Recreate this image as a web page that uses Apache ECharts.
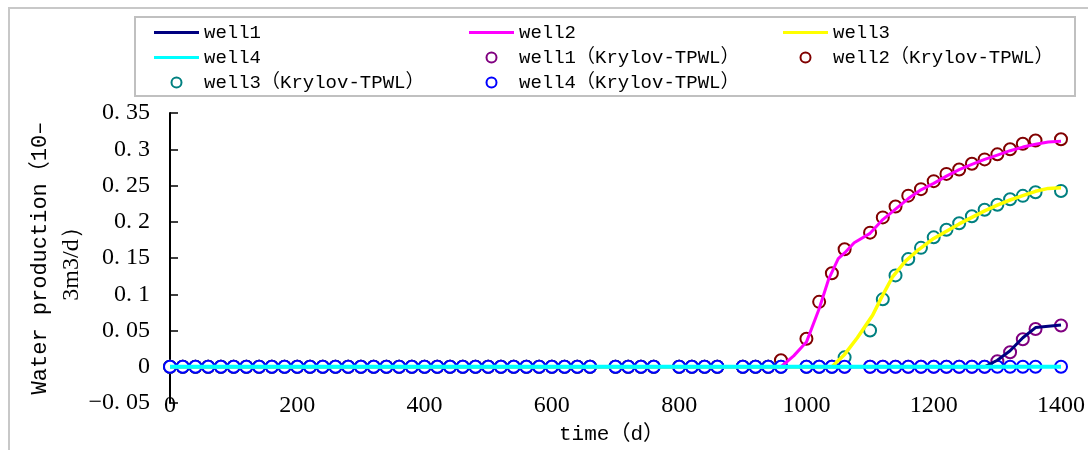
<!DOCTYPE html>
<html>
<head>
<meta charset="utf-8">
<script src="https://cdn.jsdelivr.net/npm/echarts@6/dist/echarts.min.js"></script>
<style>
html,body{margin:0;padding:0;background:#fff;}
#chart{width:1088px;height:450px;}
</style>
</head>
<body>
<div id="chart"></div>
<script>
// ---- data ----
var xTicks = [0, 200, 400, 600, 800, 1000, 1200, 1400];
var yTicks = [-0.05, 0, 0.05, 0.1, 0.15, 0.2, 0.25, 0.3, 0.35];

var markerTimes = [0,20,40,60,80,100,120,140,160,180,200,220,240,260,280,300,320,340,360,380,400,420,440,460,480,500,520,540,560,580,600,620,640,660,
  700,720,740,760, 800,820,840,860, 900,920,940,960, 1000,1020,1040,1060,
  1100,1120,1140,1160,1180,1200,1220,1240,1260,1280,1300,1320,1340,1360, 1400];

var well1K = [0,0,0,0,0,0,0,0,0,0,0,0,0,0,0,0,0,0,0,0,0,0,0,0,0,0,0,0,0,0,0,0,0,0,
  0,0,0,0, 0,0,0,0, 0,0,0,0, 0,0,0,0,
  0,0,0,0,0,0,0,0,0,0,0.0077,0.020,0.038,0.052, 0.0568];
var well2K = [0,0,0,0,0,0,0,0,0,0,0,0,0,0,0,0,0,0,0,0,0,0,0,0,0,0,0,0,0,0,0,0,0,0,
  0,0,0,0, 0,0,0,0, 0,0,0,0.009, 0.0386,0.0895,0.129,0.162,
  0.185,0.206,0.221,0.236,0.245,0.256,0.266,0.272,0.280,0.286,0.293,0.300,0.3075,0.312, 0.3137];
var well3K = [0,0,0,0,0,0,0,0,0,0,0,0,0,0,0,0,0,0,0,0,0,0,0,0,0,0,0,0,0,0,0,0,0,0,
  0,0,0,0, 0,0,0,0, 0,0,0,0, 0,0,0,0.013,
  0.050,0.093,0.126,0.1485,0.164,0.1785,0.189,0.198,0.2075,0.2166,0.2234,0.231,0.2357,0.2407, 0.2425];
var well4K = [0,0,0,0,0,0,0,0,0,0,0,0,0,0,0,0,0,0,0,0,0,0,0,0,0,0,0,0,0,0,0,0,0,0,
  0,0,0,0, 0,0,0,0, 0,0,0,0, 0,0,0,0,
  0,0,0,0,0,0,0,0,0,0,0,0,0,0, 0];

var well1T = [0, 1280, 1300, 1320, 1340, 1360, 1400];
var well1V = [0, 0, 0.009, 0.022, 0.040, 0.054, 0.0575];
var well2T = [0, 960, 980, 1000, 1020, 1035, 1050, 1060, 1075, 1100, 1120, 1140, 1160, 1180, 1200, 1220, 1240, 1260, 1280, 1300, 1320, 1340, 1360, 1380, 1400];
var well2V = [0, 0, 0.015, 0.034, 0.080, 0.121, 0.149, 0.157, 0.171, 0.184, 0.203, 0.2175, 0.232, 0.244, 0.253, 0.263, 0.272, 0.279, 0.286, 0.292, 0.298, 0.303, 0.307, 0.310, 0.311];
var well3T = [0, 1040, 1060, 1080, 1104, 1117, 1135, 1156, 1177, 1200, 1220, 1240, 1260, 1280, 1300, 1320, 1340, 1360, 1380, 1400];
var well3V = [0, 0, 0.017, 0.040, 0.071, 0.094, 0.1235, 0.146, 0.162, 0.177, 0.187, 0.197, 0.206, 0.215, 0.223, 0.230, 0.236, 0.242, 0.246, 0.247];
var well4T = [0, 1400];
var well4V = [0, 0];

var names = ['well1','well2','well3','well4',
  'well1（Krylov-TPWL）','well2（Krylov-TPWL）','well3（Krylov-TPWL）','well4（Krylov-TPWL）'];

function zip(a, b){ return a.map(function(v, i){ return [v, b[i]]; }); }

var chart = echarts.init(document.getElementById('chart'));
var serifFont = '"Liberation Serif", "Times New Roman", serif';
var monoFont = '"Liberation Mono", "Noto Sans CJK SC", monospace';
var lineIcon = 'path://M0,0 L45,0 L45,3 L0,3 Z';

function lineSeries(name, t, v, color, w){
  return {name: name, type: 'line', data: zip(t, v), symbol: 'none', showSymbol: false,
    lineStyle: {color: color, width: w}, itemStyle: {color: color}, animation: false};
}
function scatterSeries(name, v, color){
  return {name: name, type: 'scatter', data: zip(markerTimes, v), symbol: 'emptyCircle', symbolSize: 12,
    itemStyle: {color: color, borderColor: color, borderWidth: 2, opacity: 1}, animation: false};
}
function li(n){ return {name: n, icon: lineIcon}; }
function si(n){ return {name: n, icon: 'emptyCircle'}; }
var legendCommon = {orient: 'vertical', top: 20, padding: 0, itemGap: 0, itemWidth: 45, itemHeight: 10,
  textStyle: {fontFamily: monoFont, fontSize: 19, color: '#000', lineHeight: 25}};

var option = {
  backgroundColor: '#fff',
  animation: false,
  graphic: [
    {type: 'rect', silent: true, z: -1, shape: {x: 9, y: 8, width: 1200, height: 600},
      style: {fill: 'none', stroke: '#c8c8c8', lineWidth: 2}},
    {type: 'rect', silent: true, z: -1, shape: {x: 135, y: 17, width: 940, height: 79},
      style: {fill: '#fff', stroke: '#c0c0c0', lineWidth: 2}}
  ],
  legend: [
    Object.assign({}, legendCommon, {left: 154, data: [li(names[0]), li(names[3]), si(names[6])]}),
    Object.assign({}, legendCommon, {left: 469, data: [li(names[1]), si(names[4]), si(names[7])]}),
    Object.assign({}, legendCommon, {left: 783, data: [li(names[2]), si(names[5])]})
  ],
  grid: {left: 170, right: 22, top: 113, bottom: 44, containLabel: false},
  xAxis: [
    {type: 'value', min: xTicks[0], max: xTicks[xTicks.length - 1], interval: 200, position: 'bottom',
      axisLine: {show: true, onZero: true, lineStyle: {color: '#000', width: 1.5}},
      axisTick: {show: true, inside: true, length: 5, lineStyle: {color: '#000'}},
      axisLabel: {show: false}, splitLine: {show: false}},
    {type: 'value', min: xTicks[0], max: xTicks[xTicks.length - 1], interval: 200, position: 'bottom',
      axisLine: {show: false, onZero: false}, axisTick: {show: false}, splitLine: {show: false},
      axisLabel: {show: true, margin: 3, verticalAlign: 'middle', fontFamily: serifFont, fontSize: 24, color: '#000',
        formatter: function(v){ return String(v); }},
      name: 'time（d）', nameLocation: 'middle', nameGap: 21,
      nameTextStyle: {fontFamily: monoFont, fontSize: 21, color: '#000', padding: [0, 8, 0, 0]}}
  ],
  yAxis: {type: 'value', min: yTicks[0], max: yTicks[yTicks.length - 1], interval: 0.05,
    axisLine: {show: true, onZero: false, lineStyle: {color: '#000', width: 2}},
    axisTick: {show: true, inside: true, length: 8, lineStyle: {color: '#000', width: 1.5}},
    splitLine: {show: false},
    axisLabel: {margin: 20, fontFamily: serifFont, fontSize: 24, color: '#000',
      formatter: function(v){ var s = String(Math.round(v * 100) / 100); return s.replace('-', '−').replace('.', '. '); }},
    name: '{a|Water production（10–}\n{b|3m3/d）}', nameLocation: 'middle', nameGap: 82, nameRotate: 90,
    nameMoveOverlap: false,
    nameTextStyle: {color: '#000', lineHeight: 32,
      rich: {a: {fontFamily: monoFont, fontSize: 22, color: '#000', lineHeight: 32},
             b: {fontFamily: serifFont, fontSize: 24, color: '#000', lineHeight: 32}}}},
  series: [
    lineSeries(names[0], well1T, well1V, '#000080', 3),
    lineSeries(names[1], well2T, well2V, '#ff00ff', 3),
    lineSeries(names[2], well3T, well3V, '#ffff00', 3.5),
    lineSeries(names[3], well4T, well4V, '#00ffff', 4),
    scatterSeries(names[4], well1K, '#800080'),
    scatterSeries(names[5], well2K, '#800000'),
    scatterSeries(names[6], well3K, '#008080'),
    scatterSeries(names[7], well4K, '#0000ff')
  ]
};
chart.setOption(option);
</script>
</body>
</html>
